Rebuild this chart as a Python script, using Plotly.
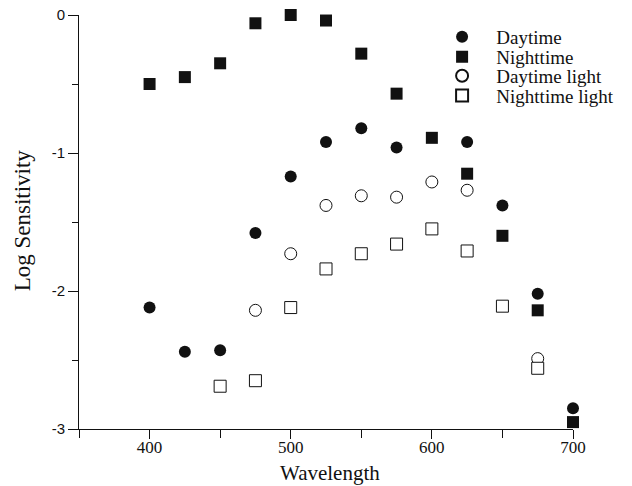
import plotly.graph_objects as go

# Wavelengths (nm) at which sensitivity was measured
wl = [400, 425, 450, 475, 500, 525, 550, 575, 600, 625, 650, 675, 700]

# Log sensitivity for each condition (None = not measured)
daytime = [-2.12, -2.44, -2.43, -1.58, -1.17, -0.92, -0.82, -0.96, None, -0.92, -1.38, -2.02, -2.85]
nighttime = [-0.50, -0.45, -0.35, -0.06, 0.0, -0.04, -0.28, -0.57, -0.89, -1.15, -1.60, -2.14, -2.95]
daytime_light = [None, None, None, -2.14, -1.73, -1.38, -1.31, -1.32, -1.21, -1.27, None, -2.49, None]
nighttime_light = [None, None, -2.69, -2.65, -2.12, -1.84, -1.73, -1.66, -1.55, -1.71, -2.11, -2.56, None]

x_ticks = [400, 500, 600, 700]
y_ticks = [-3, -2, -1, 0]

SERIF = "Liberation Serif"
SANS = "Liberation Sans"
INK = "#111111"
PAD = "\u00a0\u00a0\u00a0"  # widens the gap between legend symbol and label

series = [
    ("Daytime", daytime, dict(symbol="circle", size=12, color=INK)),
    ("Nighttime", nighttime, dict(symbol="square", size=12, color=INK)),
    ("Daytime light", daytime_light,
     dict(symbol="circle", size=12, color="white", line=dict(color=INK, width=1))),
    ("Nighttime light", nighttime_light,
     dict(symbol="square", size=12, color="white", line=dict(color=INK, width=1))),
]

# one legend box per series so the rows can sit close together
legend_names = ["legend", "legend2", "legend3", "legend4"]
legend_rows = [0.947, 0.899, 0.853, 0.805]

fig = go.Figure()
for (name, vals, marker), lg in zip(series, legend_names):
    fig.add_trace(go.Scatter(
        x=wl, y=vals, mode="markers", name=PAD + name, legend=lg,
        marker=marker, cliponaxis=False,
    ))

layout_legends = {}
for lg, ypos in zip(legend_names, legend_rows):
    layout_legends[lg] = dict(
        x=0.735, y=ypos, xanchor="left", yanchor="middle",
        font=dict(family=SERIF, size=19, color=INK),
        bgcolor="rgba(0,0,0,0)", itemsizing="constant",
        borderwidth=0,
    )

fig.update_layout(
    width=632, height=486,
    margin=dict(l=79, r=59, t=15, b=57, autoexpand=False),
    plot_bgcolor="white", paper_bgcolor="white",
    font=dict(family=SERIF, color=INK, size=15),
    showlegend=True,
    **layout_legends,
)

fig.update_xaxes(
    range=[350, 700], tickvals=x_ticks, ticktext=[str(v) for v in x_ticks],
    showgrid=False, zeroline=False, automargin=False,
    showline=True, linecolor=INK, linewidth=1,
    ticks="outside", ticklen=9, tickcolor=INK, tickwidth=1,
    minor=dict(dtick=50, tick0=350, ticks="outside", ticklen=8, tickcolor=INK, tickwidth=1),
    tickfont=dict(family=SERIF, size=17, color=INK),
    ticklabelstandoff=-6,
)

fig.update_yaxes(
    range=[-3, 0], tickvals=y_ticks, ticktext=[str(v) for v in y_ticks],
    showgrid=False, zeroline=False, automargin=False,
    showline=True, linecolor=INK, linewidth=1,
    ticks="outside", ticklen=10, tickcolor=INK, tickwidth=1,
    minor=dict(dtick=0.5, tick0=0, ticks="outside", ticklen=6, tickcolor=INK, tickwidth=1),
    tickfont=dict(family=SANS, size=15, color=INK),
)

# axis titles
fig.add_annotation(
    text="Wavelength", xref="paper", yref="paper", x=0.5085, y=-0.106,
    xanchor="center", yanchor="middle", showarrow=False,
    font=dict(family=SERIF, size=21, color=INK),
)
fig.add_annotation(
    text="Log Sensitivity", xref="paper", yref="paper", x=-0.1125, y=0.505,
    xanchor="center", yanchor="middle", showarrow=False, textangle=-90,
    font=dict(family=SERIF, size=23, color=INK),
)

fig.write_html("out.html")
